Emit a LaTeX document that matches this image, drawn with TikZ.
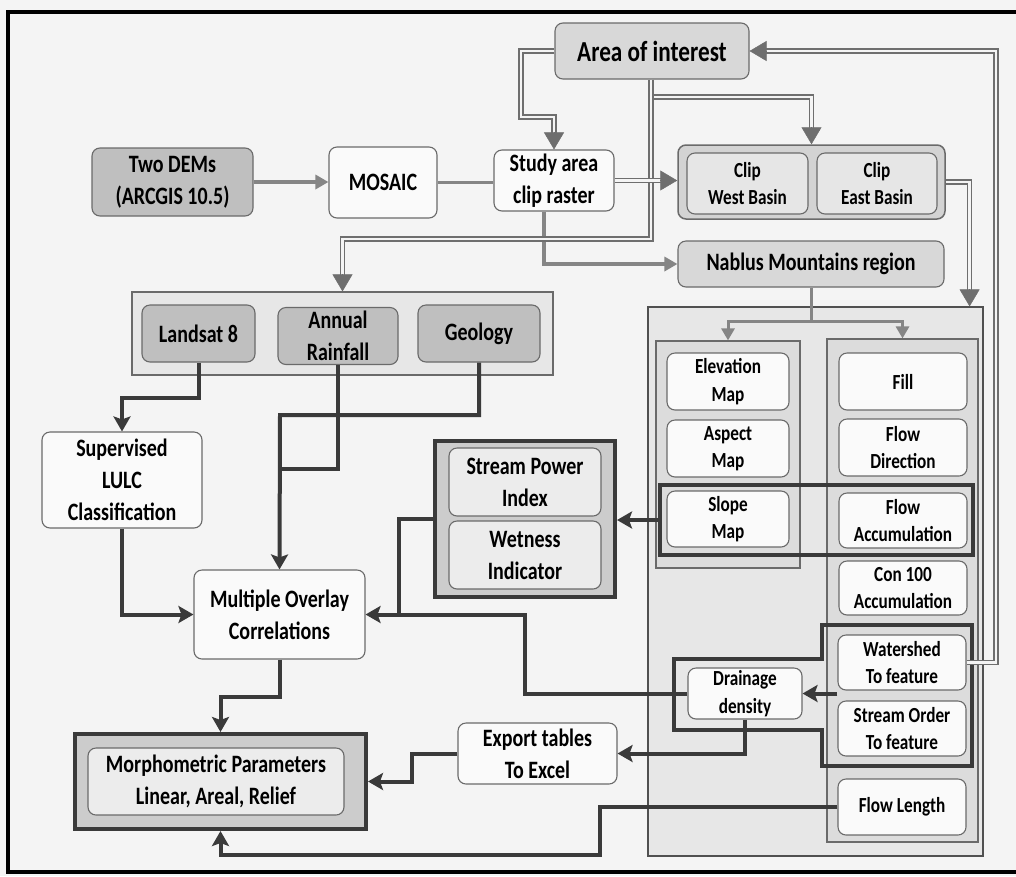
\documentclass[tikz,border=0pt]{standalone}
\usepackage{fontspec}
\setmainfont{Carlito}[FakeStretch=0.8]
\usetikzlibrary{arrows.meta}
\definecolor{bg}{HTML}{F4F4F4}
\definecolor{wb}{HTML}{FAFAFA}
\definecolor{gA}{HTML}{D8D8D8}
\definecolor{gD}{HTML}{BFBFBF}
\definecolor{gC}{HTML}{D3D3D3}
\definecolor{gI}{HTML}{E6E6E6}
\definecolor{gI2}{HTML}{ECECEC}
\definecolor{gL}{HTML}{E7E7E7}
\definecolor{gS}{HTML}{DCDCDC}
\definecolor{gT}{HTML}{CCCCCC}
\definecolor{bord}{HTML}{6A6A6A}
\definecolor{dk}{HTML}{3A3A3A}
\definecolor{dk2}{HTML}{505050}
\definecolor{garc}{HTML}{858585}
\definecolor{dblc}{HTML}{6E6E6E}
\newcommand{\fmain}{\bfseries\fontsize{25pt}{32pt}\selectfont}
\newcommand{\fsmall}{\bfseries\fontsize{21.5pt}{27.5pt}\selectfont}
\newcommand{\fbig}{\bfseries\fontsize{29pt}{32pt}\selectfont}
\begin{document}
\begin{tikzpicture}[x=1pt,y=-1pt,
  box/.style={draw=bord,line width=1.1pt,rounded corners=8pt,inner sep=0pt,align=center,font=\fmain,text=black},
  sbox/.style={box,font=\fsmall,fill=wb},
  cont/.style={draw=bord,line width=1.2pt,inner sep=0pt},
  tcont/.style={draw=dk,line width=4pt,fill=gT,inner sep=0pt},
  gar/.style={draw=garc,line width=3.5pt,-{Triangle[length=13pt,width=14pt]}},
  gln/.style={draw=garc,line width=3.5pt},
  dbl/.style={draw=dblc,line width=1.3pt,double=bg,double distance=2.6pt,shorten >=14pt},
  dtip/.style={draw=dblc,line width=0.5pt,-{Triangle[length=17pt,width=20pt]}},
  dar/.style={draw=dk,line width=4pt,-{Stealth[length=15pt,width=17pt,inset=3pt]}},
  dln/.style={draw=dk,line width=4pt}]
\fill[bg] (0,0) rectangle (1016,876);
\useasboundingbox (0,0) rectangle (1016,876);
\draw[line width=3.5pt,black] (1016,12) -- (8,12) -- (8,872) -- (1016,872);

% top
\node[box,fill=gA,minimum width=194pt,minimum height=56pt,font=\fbig] (area) at (652,51) {Area of interest};
\node[box,fill=gD,minimum width=161pt,minimum height=68pt] (dems) at (172.5,182) {Two DEMs\\(ARCGIS 10.5)};
\node[box,fill=wb,minimum width=108pt,minimum height=71pt] (mosaic) at (383,182.5) {MOSAIC};
\node[box,fill=wb,minimum width=120pt,minimum height=61pt] (study) at (554,180.5) {Study area\\clip raster};
\node[box,fill=gC,minimum width=267pt,minimum height=74pt,line width=1.5pt] (clipc) at (811.5,182) {};
\node[sbox,fill=gI,minimum width=121pt,minimum height=61pt] (clipw) at (747.5,183.5) {Clip\\West Basin};
\node[sbox,fill=gI,minimum width=120pt,minimum height=61pt] (clipe) at (877,183.5) {Clip\\East Basin};
\node[box,fill=gA,minimum width=266pt,minimum height=46pt] (nablus) at (811,264) {Nablus Mountains region};

% left
\node[cont,fill=gL,minimum width=421pt,minimum height=83pt] (datac) at (342.5,333.5) {};
\node[box,fill=gD,minimum width=113pt,minimum height=57pt] (landsat) at (198.5,333.5) {Landsat 8};
\node[box,fill=gD,minimum width=120pt,minimum height=57pt] (rain) at (338,336) {Annual\\Rainfall};
\node[box,fill=gD,minimum width=122pt,minimum height=57pt] (geology) at (479,333.5) {Geology};
\node[box,fill=wb,minimum width=160pt,minimum height=96pt] (lulc) at (122,480) {Supervised\\LULC\\Classification};
\node[tcont,minimum width=180pt,minimum height=156pt] (spc) at (525,519) {};
\node[box,fill=gI2,minimum width=152pt,minimum height=68pt] (spi) at (525,482) {Stream Power\\Index};
\node[box,fill=gI2,minimum width=152pt,minimum height=68pt] (wet) at (525,555) {Wetness\\Indicator};
\node[box,fill=wb,minimum width=171pt,minimum height=89pt] (moc) at (279.5,614.5) {Multiple Overlay\\Correlations};
\node[tcont,minimum width=291pt,minimum height=95pt] (morphc) at (220.5,781.5) {};
\node[box,fill=gI2,minimum width=256pt,minimum height=67pt] (morph) at (216,781.5) {Morphometric Parameters\\Linear, Areal, Relief};
\node[box,fill=wb,minimum width=159pt,minimum height=61pt] (export) at (537.5,753.5) {Export tables\\To Excel};

% right
\node[cont,draw=dk2,fill=gL,minimum width=335pt,minimum height=549pt] (bigc) at (815.5,581.5) {};
\node[cont,fill=gS,minimum width=144pt,minimum height=227pt] (leftsub) at (728,454.5) {};
\node[cont,fill=gS,minimum width=151pt,minimum height=503pt] (rightsub) at (902.5,590.5) {};
\node[draw=dk,line width=4pt,minimum width=313pt,minimum height=70pt,inner sep=0pt] (hlbox) at (816.5,520) {};
\draw[dk,line width=4pt] (674,659) -- (822,659) -- (822,625) -- (972,625) -- (972,766) -- (822,766) -- (822,730) -- (674,730) -- cycle;
\node[sbox,minimum width=122pt,minimum height=57pt] (elev) at (728,381.5) {Elevation\\Map};
\node[sbox,minimum width=122pt,minimum height=57pt] (aspect) at (728,448.5) {Aspect\\Map};
\node[sbox,minimum width=122pt,minimum height=56pt] (slope) at (728,519) {Slope\\Map};
\node[sbox,minimum width=128pt,minimum height=57pt] (nfill) at (903,381.5) {Fill};
\node[sbox,minimum width=128pt,minimum height=57pt] (flowdir) at (903,447.5) {Flow\\Direction};
\node[sbox,minimum width=128pt,minimum height=55pt] (flowacc) at (903,520.5) {Flow\\Accumulation};
\node[sbox,minimum width=128pt,minimum height=54pt] (con) at (903,588) {Con 100\\Accumulation};
\node[sbox,minimum width=128pt,minimum height=55pt] (wshed) at (902,662.5) {Watershed\\To feature};
\node[sbox,minimum width=128pt,minimum height=55pt] (sorder) at (902,728.5) {Stream Order\\To feature};
\node[sbox,minimum width=128pt,minimum height=56pt] (flen) at (902,807) {Flow Length};
\node[sbox,minimum width=114pt,minimum height=51pt] (drain) at (745,693.5) {Drainage\\density};

% gray connectors
\draw[gar] (dems.east) -- (mosaic.west |- dems.east);
\draw[gln] (mosaic.east) -- (study.west |- mosaic.east);
\draw[gar] ([xshift=-10pt]study.south) |- (nablus.west);
\coordinate (ns) at (811,321);
\draw[draw=garc,line width=3pt] (nablus.south) -- (ns);
\draw[draw=garc,line width=3pt,-{Triangle[length=12pt,width=13pt]}] (ns) -| (leftsub.north);
\draw[draw=garc,line width=3pt,-{Triangle[length=12pt,width=13pt]}] (ns) -| (rightsub.north);

% double connectors
\coordinate (a1) at (521,51);
\coordinate (a2) at (521,117);
\draw[dbl] (area.west) -- (a1) -- (a2) -| (study.north);
\draw[dtip] ([yshift=17pt]study.north) -- (study.north);
\coordinate (a4) at (651,97);
\draw[dbl] (a4) -| (clipc.north);
\draw[dtip] ([yshift=17pt]clipc.north) -- (clipc.north);
\coordinate (a3) at (651,239);
\draw[dbl] ([xshift=-1pt]area.south) -- (a3) -| (datac.north);
\draw[dtip] ([yshift=17pt]datac.north) -- (datac.north);
\coordinate (c1) at (study.east -| clipc.west);
\draw[dbl] (study.east) -- (c1);
\draw[dtip] ([xshift=-17pt]c1) -- (c1);
\coordinate (c2) at ([xshift=-14pt]bigc.north east);
\draw[dbl] (clipc.east) -| (c2);
\draw[dtip] ([yshift=17pt]c2) -- (c2);
\coordinate (a6) at (996,662.5);
\draw[dbl] (wshed.east) -- (a6) |- (area.east);
\draw[dtip] ([xshift=17pt]area.east) -- (area.east);

% dark connectors
\draw[dar] (landsat.south) -- ++(0,35) -| (lulc.north);
\coordinate (m1) at (280,415);
\coordinate (m2) at (280,469);
\draw[dln] (rain.south) |- (m2);
\draw[dar] (geology.south) |- (m1) -- (moc.north);
\draw[dar] (lulc.south) |- (moc.west);
\draw[dar] (moc.south) -- ++(0,37) -| (morphc.north);
\draw[dar] (hlbox.west) -- (hlbox.west -| spc.east);
\coordinate (j1) at (399,614.5);
\draw[dln] (spc.west) -| (j1);
\coordinate (j2) at (525,693.5);
\draw[dar] (drain.west) -- (j2) |- (moc.east);
\draw[dar] (drain.east -| wshed.west) -- (drain.east);
\draw[dar] (drain.south) |- (export.east);
\coordinate (j3) at (412,753.5);
\draw[dar] (export.west) -- (j3) |- (morphc.east);
\coordinate (j4) at (600,855);
\draw[dar] (flen.west) -| (j4) -| (morphc.south);
\end{tikzpicture}
\end{document}
